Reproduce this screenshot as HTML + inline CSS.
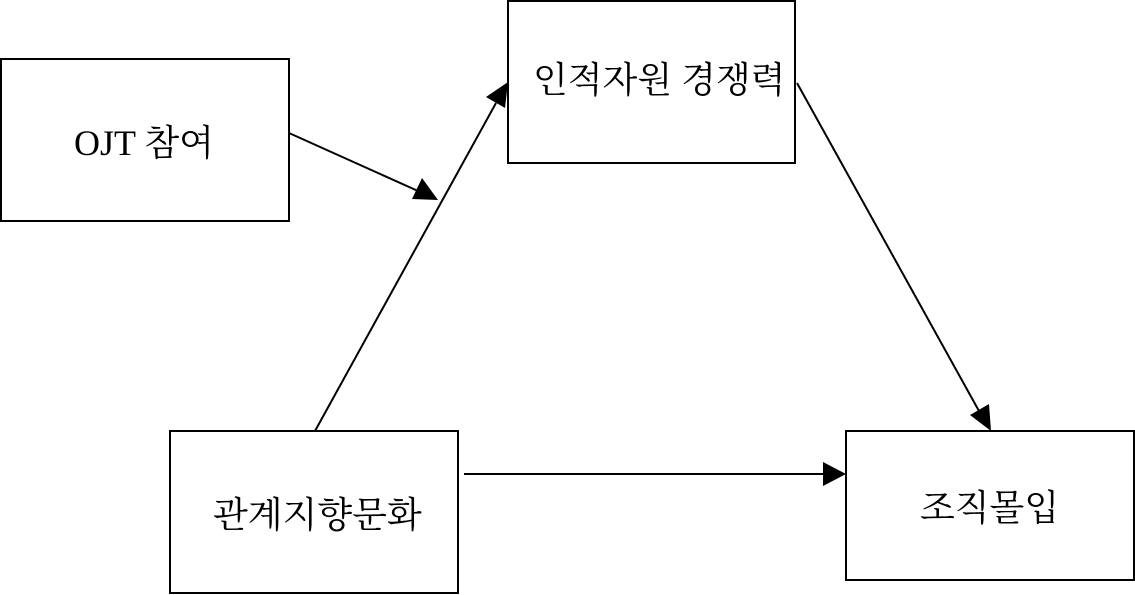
<!DOCTYPE html>
<html><head><meta charset="utf-8"><style>
html,body{margin:0;padding:0;background:#fff;}
svg{display:block;}
text{font-family:"Liberation Serif","Noto Serif CJK KR","Noto Serif CJK SC",serif;font-size:36px;fill:#000;}
</style></head><body>
<svg width="1135" height="595" viewBox="0 0 1135 595" xmlns="http://www.w3.org/2000/svg">
<defs>
<marker id="a" markerWidth="10" markerHeight="8" refX="10" refY="4" orient="auto" markerUnits="userSpaceOnUse" viewBox="0 0 10 8">
</marker>
</defs>
<g fill="none" stroke="#000" stroke-width="2">
<rect x="1" y="59" width="288" height="162"/>
<rect x="508" y="1" width="287" height="162"/>
<rect x="170" y="431" width="288" height="162"/>
<rect x="846" y="431" width="288" height="149"/>
<line x1="289" y1="133" x2="418" y2="191"/>
<line x1="315" y1="431" x2="496" y2="103"/>
<line x1="797" y1="83" x2="979" y2="411"/>
<line x1="464" y1="474" x2="825" y2="474"/>
</g>
<g fill="#000">
<polygon points="438,200 412,199 422,178"/>
<polygon points="508,82 505,108 486,97"/>
<polygon points="991,431 970,415 989,404"/>
<polygon points="846,474 823,462 823,486"/>
</g>
<text x="74" y="155">OJT 참여</text>
<text x="533" y="92">인적자원 경쟁력</text>
<text x="213" y="527">관계지향문화</text>
<text x="920" y="520">조직몰입</text>
</svg>
</body></html>
